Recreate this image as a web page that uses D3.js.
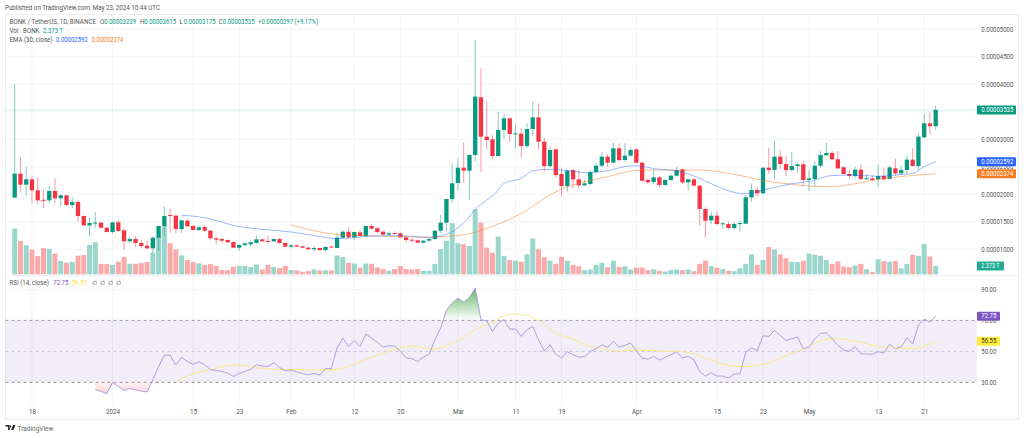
<!DOCTYPE html>
<html><head><meta charset="utf-8">
<script src="https://cdn.jsdelivr.net/npm/d3@7/dist/d3.min.js"></script>
<style>
html,body{margin:0;padding:0;background:#fff;overflow:hidden}
svg{display:block}
text{font-family:Roboto,"Open Sans",sans-serif}
</style></head><body>
<svg id="c" width="1024" height="438"></svg>
<script>
// ---- data, prices in units of 1e-8 USDT, volume in trillions ----
const firstDay = [2023, 11, 15];
const opens = [1939,2375,2175,2272,2072,1900,1890,2060,1927,1981,
1805,1860,1605,1436,1478,1484,1393,1314,1490,1345,
1145,1187,1115,1066,1018,1211,1424,1625,1612,1369,
1521,1424,1351,1405,1339,1199,1187,1169,1133,1030,
1078,1090,1115,1181,1151,1145,1187,1115,1048,1072,
1054,1030,1000,1024,985,1050,1024,1211,1320,1217,
1308,1242,1423,1381,1320,1266,1296,1290,1217,1175,
1163,1120,1157,1187,1338,1484,1914,2205,2484,2429,
2715,3763,3048,2999,2696,3169,3381,3096,3102,2878,
3187,3399,2957,2514,2817,2368,2150,2441,2272,2163,
2187,2405,2520,2684,2575,2836,2623,2702,2817,2575,
2260,2223,2308,2169,2260,2338,2454,2217,2272,2157,
1733,1526,1611,1460,1460,1387,1466,1466,1945,2078,
2017,2484,2442,2684,2551,2442,2514,2545,2260,2278,
2520,2708,2751,2636,2490,2369,2333,2448,2278,2290,
2272,2333,2278,2472,2381,2442,2630,2514,3036,3290,3239];
const closes = [2375,2175,2272,2072,1890,1890,2060,1927,1981,1805,
1860,1605,1436,1478,1486,1393,1314,1490,1333,1145,
1187,1115,1060,1018,1211,1424,1605,1615,1369,1527,
1418,1351,1399,1339,1199,1175,1157,1127,1030,1078,
1108,1127,1181,1145,1145,1187,1115,1048,1072,1048,
1030,1000,1024,985,1042,1042,1211,1320,1217,1314,
1242,1423,1375,1314,1266,1290,1284,1217,1169,1157,
1120,1157,1187,1338,1484,1914,2200,2484,2429,2715,
3775,3048,2987,2696,3169,3381,3096,3108,2878,3187,
3399,2957,2514,2805,2350,2150,2429,2272,2163,2199,
2405,2520,2684,2575,2836,2623,2702,2805,2575,2247,
2217,2308,2169,2260,2338,2441,2217,2272,2157,1733,
1520,1611,1460,1472,1387,1460,1478,1945,2078,2017,
2484,2442,2684,2551,2442,2514,2545,2260,2290,2520,
2714,2751,2636,2472,2369,2333,2448,2278,2290,2260,
2333,2272,2490,2381,2442,2630,2514,3048,3290,3239,3535];
const highs = [4005,2666,2496,2345,2302,2090,2150,2284,2000,1985,
1940,1890,1618,1575,1678,1496,1400,1495,1533,1375,
1230,1240,1163,1150,1230,1424,1781,1745,1620,1535,
1545,1440,1424,1436,1350,1230,1211,1181,1140,1090,
1133,1163,1254,1190,1254,1200,1211,1127,1090,1080,
1066,1042,1060,1030,1060,1070,1290,1350,1400,1320,
1350,1430,1460,1411,1340,1320,1326,1314,1242,1199,
1181,1163,1199,1350,1623,1920,2563,2642,2945,2730,
4805,4290,3696,3078,3502,3442,3400,3272,3199,3290,
3684,3654,3036,2866,2836,2472,2454,2454,2441,2260,
2441,2563,2775,2733,2945,2927,2927,2848,2836,2590,
2290,2441,2330,2280,2370,2502,2470,2290,2285,2170,
1763,1684,1702,1502,1502,1502,1520,1987,2199,2126,
2484,2848,2969,2805,2702,2763,2581,2605,2442,2605,
2787,2938,2787,2787,2514,2454,2502,2545,2363,2340,
2545,2484,2514,2654,2514,2702,2835,3108,3460,3484,3615];
const lows = [1939,2030,1969,1836,1817,1745,1836,1836,1787,1787,
1751,1496,1424,1242,1393,1381,1305,1284,1314,987,
1120,1042,1030,1000,939,969,1254,1302,1290,1302,
1405,1340,1333,1315,1181,1084,1120,1108,1025,969,
1060,1048,1108,1135,1133,1133,1103,1042,1018,1040,
1018,981,957,975,963,1030,1024,1200,1200,1170,
1230,1230,1363,1290,1254,1248,1272,1199,1120,1120,
1108,1110,1139,1169,1290,1320,1847,2078,2205,1896,
2600,2411,2817,2636,2690,3005,2957,2836,2666,2836,
3060,2805,2411,2480,2300,1957,2047,2105,2110,2150,
2169,2380,2490,2500,2563,2593,2600,2690,2563,2225,
2180,2180,2130,2150,2240,2320,2190,2066,2140,1424,
1211,1454,1442,1369,1363,1363,1320,1460,1866,1957,
2005,2381,2278,2460,2332,2423,2393,2151,2060,2139,
2490,2702,2623,2460,2363,2290,2290,2248,2260,2240,
2139,2260,2272,2339,2351,2381,2502,2442,3017,3090,3175];
const volumes = [13.1,9.5,8.3,7.05,5.2,7.5,7.3,5.9,3.8,3.3,
3.5,5.3,5.5,8.4,9.2,3.0,3.0,2.7,3.6,5.0,
3.0,3.0,3.2,3.5,6.2,11,13.8,8.9,7.1,5.4,
4.1,3.5,3.1,2.6,2.9,2.4,1.2,1.2,2.2,2.4,
2.4,2.1,2.8,1.4,2.7,2.1,1.8,2.4,1.2,1.1,
0.7,0.9,1.4,1.1,1.1,1.1,5.4,4.9,3.3,3.1,
1.9,3.1,3.0,2.0,1.5,1.0,1.5,2.4,1.5,1.4,
1.5,1.0,1.0,3.0,7.2,9.6,14.6,8.9,8.6,8.1,
18.6,14.8,7.6,6.2,10.8,5.2,4.1,3.9,3.6,5.7,
10.3,7.2,4.9,3.9,3.0,5.0,3.9,2.7,2.3,1.2,
1.4,2.7,3.3,2.0,3.9,2.1,2.3,1.4,1.9,1.9,
1.2,1.4,1.0,0.8,1.2,1.4,1.2,1.4,0.9,3.0,
3.9,2.4,1.9,1.5,1.0,0.9,1.7,3.0,5.7,2.7,
4.1,7.8,7.1,5.7,4.6,3.6,3.5,3.9,5.9,5.6,
5.3,4.1,3.0,3.7,2.2,2.0,2.5,3.0,1.4,0.7,
4.3,3.8,3.6,3.8,1.7,3.0,5.6,5.3,8.7,5.1,2.373];

const emaFastDays = [29,33,38.5,43,48,52.5,56,62.5,67,72,74,76,78.5,80,82,83.5,85,88,90,92.5,95,97,99,103,106,108,111.5,114.5,118,121.5,124.5,126.7,129,132,135,138.4,141.8,145.5,150,153,156,158,160];
const emaFast = [1618,1575,1424,1363,1315,1242,1193,1242,1248,1217,1242,1320,1532,1726,1896,2017,2199,2290,2423,2454,2441,2423,2393,2429,2502,2520,2460,2435,2332,2169,2048,2011,2048,2126,2193,2242,2339,2351,2327,2351,2381,2502,2592];
const emaSlowDays = [48,56,62.5,68,72,75.6,78.5,82,85,89,92.5,96,99,103,106.5,108.8,111.5,115.5,119,123,127,130.5,134.6,138.7,141.6,145.7,150,154.9,160];
const emaSlow = [1442,1270,1242,1229,1217,1242,1272,1381,1502,1714,1957,2138,2229,2320,2411,2441,2441,2436,2442,2399,2320,2242,2187,2145,2139,2187,2272,2332,2374];

const rsiStart = 14;
const rsi = [25.3,24.2,22.7,30,27.4,24.8,
26.1,25.3,24.4,23.8,31.7,40.3,47.6,47.6,41.2,46.1,
43.5,41.6,43.3,41.4,38.2,37.7,37.1,36,33.9,35.8,
37.1,38.4,41.4,40.5,40.3,42.7,39.7,37.5,38,36.7,
35.8,34.9,35.8,34.7,39,38.8,52.2,58.6,53.2,57,
53.2,61.2,58.6,55.8,52.8,53.7,53.4,50,45.9,45.3,
43.5,46.3,48.1,57.5,65,76.5,81.2,84.4,81.8,84.8,
90.9,70.4,69.8,62.9,68.3,70.4,64.4,64.4,59.7,64,
66.1,57.5,50.2,54.3,48.3,45.7,49.8,47.8,46.3,46.6,
50,51.7,54.3,52.6,56.5,52.8,53.9,55.4,50.4,45.7,
45,46.8,44.4,46.1,47.8,49.8,45.7,46.8,44.6,37.1,
33.9,36.2,34.1,34.1,32.8,35.4,35.6,49.4,52.2,50.6,
60.1,59.7,63.5,60.3,57.1,58.2,59.2,51.7,52.8,58,
61.6,62,58.2,53.9,50.9,50,53,48.5,48.3,48.1,
49.8,48.9,54.7,51.7,53,58.8,54.7,67,70.9,68.9,72.75];
const rsiMaDays = [28,30,34,38,39,43,48,53,56,59.4,62.3,65.8,69,72.8,75,78,80.2,82.5,84.8,87,89.5,91.8,94,97,99,102,105,108.6,112,115.5,118.4,121.9,126,128.9,131.7,134.6,137.5,139.8,142.7,146.2,150.2,153,156,160];
const rsiMa = [30.2,34.3,38.2,41.2,41.2,39,38.2,38,38.4,42.5,46.8,50.9,53.4,51.5,53.9,59,64.6,67.8,72.6,74.1,72.6,67.8,61.8,58,54.3,51.7,50.2,50.9,50.2,50,47.8,43.1,40.1,40.8,43.5,48.1,52.2,56.5,58.2,56.5,53.2,52.4,51.9,56.55];

const priceGrid = [1000,1500,2000,2500,3000,3500,4000,4500,5000];
const priceTicks = [1000,1500,2000,2500,3000,4000,4500,5000];
const rsiTicks = [30,50,70,90];
const timeTicks = [[2023,11,18,"18"],[2024,0,1,"2024"],[2024,0,15,"15"],[2024,0,23,"23"],[2024,1,1,"Feb"],[2024,1,12,"12"],[2024,1,20,"20"],[2024,2,1,"Mar"],[2024,2,11,"11"],[2024,2,19,"19"],[2024,3,1,"Apr"],[2024,3,15,"15"],[2024,3,23,"23"],[2024,4,1,"May"],[2024,4,13,"13"],[2024,4,21,"21"]];

const UP="#089981", DOWN="#F23645", VUP="#9bd6cd", VDOWN="#fbaaaa";
const BLUE="#2962FF", ORANGE="#F57C1F", PURPLE="#7E57C2", YEL="#FFEB3B";

const svg=d3.select("#c");
const L=5.5,R=1018.5,T=14.5,B=419.5,AX=977;
const day=i=>new Date(Date.UTC(firstDay[0],firstDay[1],firstDay[2]+i));
const x=d3.scaleUtc().domain([day(0),day(160)]).range([14.7,935.7]);
const X=i=>x(new Date(+day(0)+i*864e5));
const y=d3.scaleLinear().domain([1000,5000]).range([249.3,29.3]);
const yVol=d3.scaleLinear().domain([0,20]).range([274.3,204.4]);
const yR=d3.scaleLinear().domain([30,90]).range([382.4,289.4]);
const bw=4.3;

// card
svg.append("rect").attr("x",L).attr("y",T).attr("width",R-L).attr("height",B-T).attr("fill","#fff").attr("stroke","#e9ebf0");
svg.append("text").attr("x",5).attr("y",10).attr("font-size",6.6).attr("fill","#555").attr("textLength",155).attr("lengthAdjust","spacingAndGlyphs").text("Published on TradingView.com, May 23, 2024 10:44 UTC");

// grid
const tickDates=timeTicks.map(t=>new Date(Date.UTC(t[0],t[1],t[2])));
const grid=svg.append("g").attr("stroke","#f3f4f6").attr("stroke-width",1);
grid.selectAll("line.v").data(tickDates).join("line").attr("class","v")
 .attr("x1",d=>x(d)).attr("x2",d=>x(d)).attr("y1",T).attr("y2",406);
grid.selectAll("line.h").data(priceGrid).join("line").attr("class","h")
 .attr("x1",L).attr("x2",AX).attr("y1",d=>y(d)).attr("y2",d=>y(d));
grid.append("line").attr("x1",L).attr("x2",AX).attr("y1",yR(90)).attr("y2",yR(90));
svg.append("line").attr("x1",L).attr("x2",R).attr("y1",275.5).attr("y2",275.5).attr("stroke","#eef0f3");

// volume
const idx=d3.range(opens.length);
svg.append("g").selectAll("rect").data(idx).join("rect")
 .attr("x",i=>X(i)-2.5).attr("width",5).attr("y",i=>yVol(volumes[i]))
 .attr("height",i=>yVol(0)-yVol(volumes[i]))
 .attr("fill",i=>closes[i]>=opens[i]?VUP:VDOWN);

// last price line
svg.append("line").attr("x1",L).attr("x2",AX).attr("y1",y(3535)).attr("y2",y(3535))
 .attr("stroke","#089981").attr("stroke-opacity",.3).attr("stroke-dasharray","1 1");

// candles
const cg=svg.append("g");
cg.selectAll("line").data(idx).join("line")
 .attr("x1",i=>X(i)).attr("x2",i=>X(i)).attr("y1",i=>y(highs[i])).attr("y2",i=>y(lows[i]))
 .attr("stroke",i=>closes[i]>=opens[i]?UP:DOWN).attr("stroke-opacity",.5).attr("stroke-width",1);
cg.selectAll("rect").data(idx).join("rect")
 .attr("x",i=>X(i)-bw/2).attr("width",bw)
 .attr("y",i=>y(Math.max(opens[i],closes[i])))
 .attr("height",i=>Math.max(1,Math.abs(y(opens[i])-y(closes[i]))))
 .attr("fill",i=>closes[i]>=opens[i]?UP:DOWN);

// EMA lines
const line=(dx,vals,sc)=>d3.line().x((d,i)=>X(dx[i])).y(d=>sc(d)).curve(d3.curveMonotoneX)(vals);
svg.append("path").attr("d",line(emaSlowDays,emaSlow,y)).attr("fill","none").attr("stroke",ORANGE).attr("stroke-opacity",.5).attr("stroke-width",1);
svg.append("path").attr("d",line(emaFastDays,emaFast,y)).attr("fill","none").attr("stroke",BLUE).attr("stroke-opacity",.45).attr("stroke-width",1);

// RSI pane
svg.append("rect").attr("x",L).attr("width",AX-L).attr("y",yR(70)).attr("height",yR(30)-yR(70)).attr("fill",PURPLE).attr("fill-opacity",.1);
[[70,"#8d8c99"],[50,"#c6c0d6"],[30,"#8d8c99"]].forEach(([v,c])=>{
 svg.append("line").attr("x1",L).attr("x2",AX).attr("y1",yR(v)).attr("y2",yR(v)).attr("stroke",c).attr("stroke-dasharray","3 3").attr("stroke-width",.9);
});
const defs=svg.append("defs");
const gu=defs.append("linearGradient").attr("id","gu").attr("gradientUnits","userSpaceOnUse").attr("x1",0).attr("x2",0).attr("y1",yR(90)).attr("y2",yR(70));
gu.append("stop").attr("offset",0).attr("stop-color","#4CAF50").attr("stop-opacity",.85);
gu.append("stop").attr("offset",1).attr("stop-color","#4CAF50").attr("stop-opacity",0);
const gd=defs.append("linearGradient").attr("id","gd").attr("gradientUnits","userSpaceOnUse").attr("x1",0).attr("x2",0).attr("y1",yR(30)).attr("y2",yR(22));
gd.append("stop").attr("offset",0).attr("stop-color","#F23645").attr("stop-opacity",.05);
gd.append("stop").attr("offset",1).attr("stop-color","#F23645").attr("stop-opacity",.25);
defs.append("clipPath").attr("id","cu").append("rect").attr("x",L).attr("width",AX-L).attr("y",276).attr("height",yR(70)-276);
defs.append("clipPath").attr("id","cd").append("rect").attr("x",L).attr("width",AX-L).attr("y",yR(30)).attr("height",60);
const rx=(d,i)=>X(rsiStart+i);
svg.append("path").attr("clip-path","url(#cu)").attr("fill","url(#gu)")
 .attr("d",d3.area().x(rx).y0(yR(70)).y1(d=>yR(d))(rsi));
svg.append("path").attr("clip-path","url(#cd)").attr("fill","url(#gd)")
 .attr("d",d3.area().x(rx).y0(yR(30)).y1(d=>yR(d))(rsi.slice(0,11)));
svg.append("path").attr("d",line(rsiMaDays,rsiMa,yR)).attr("fill","none").attr("stroke","#FDE98A").attr("stroke-width",1);
svg.append("path").attr("d",d3.line().x(rx).y(d=>yR(d))(rsi)).attr("fill","none").attr("stroke","#B39DDB").attr("stroke-width",1);

// axes
const style=w=>g=>{g.select(".domain").remove();g.selectAll(".tick line").remove();
 const t=g.selectAll("text").attr("font-size",6.3).attr("fill","#555").attr("font-family","Roboto,sans-serif");
 if(w) t.attr("textLength",w).attr("lengthAdjust","spacingAndGlyphs");};
svg.append("g").attr("transform",`translate(${AX+4.3},0)`)
 .call(d3.axisRight(y).tickValues(priceTicks).tickSize(0).tickPadding(0).tickFormat(d=>(d*1e-8).toFixed(8))).call(style(32));
svg.append("g").attr("transform",`translate(${AX+4.3},0)`)
 .call(d3.axisRight(yR).tickValues(rsiTicks).tickSize(0).tickPadding(0).tickFormat(d=>d.toFixed(2))).call(style(15));
svg.append("g").attr("transform","translate(0,410)")
 .call(d3.axisBottom(x).tickValues(tickDates).tickSize(0).tickPadding(0).tickFormat((d,i)=>timeTicks[i][3])).call(style(0));

// price labels
const tag=(yy,w,fill,color,txt,tw)=>{
 svg.append("rect").attr("x",AX).attr("y",yy-4.5).attr("width",w).attr("height",9).attr("rx",1).attr("fill",fill);
 svg.append("text").attr("x",AX+4.3).attr("y",yy+2.2).attr("font-size",6.3).attr("fill",color)
  .attr("textLength",tw).attr("lengthAdjust","spacingAndGlyphs").text(txt);
};
tag(y(3535),39,UP,"#fff","0.00003535",32);
tag(y(2592),39,BLUE,"#fff","0.00002592",32);
tag(y(2374),39,ORANGE,"#fff","0.00002374",32);
tag(yVol(2.373),27,"#22ab94","#fff","2.373 T",18.3);
tag(yR(72.75),23,PURPLE,"#fff","72.75",15);
tag(yR(56.55),23,YEL,"#333","56.55",15);

// legend
const lab=(xx,yy,txt,c,w)=>{const t=svg.append("text").attr("x",xx).attr("y",yy).attr("font-size",6.3).attr("fill",c).text(txt);
 if(w) t.attr("textLength",w).attr("lengthAdjust","spacingAndGlyphs");return t;};
lab(9.5,23.5,"BONK / TetherUS, 1D, BINANCE","#555",86.5);
[[100,"O","0.00003239"],[140,"H","0.00003615"],[179.5,"L","0.00003175"],[218.5,"C","0.00003535"]].forEach(([a,k,v])=>{
 lab(a,23.5,k,"#555");lab(a+4.3,23.5,v,UP,31.7);});
lab(258,23.5,"+0.00000297 (+9.17%)",UP,60);
lab(9.5,32.5,"Vol · BONK","#555",30);lab(43,32.5,"2.373 T",UP,20);
lab(9.5,41.5,"EMA (30, close)","#555",43);lab(56,41.5,"0.00002592",BLUE,31.7);lab(91.7,41.5,"0.00002374",ORANGE,31.7);
lab(9.5,285,"RSI (14, close)","#555",39.5);lab(53.3,285,"72.75",PURPLE,15);lab(72,285,"56.55","#FBE25A",15);
[91.5,99.5,107.5,115.5].forEach(a=>lab(a,285,"∅","#555"));

// footer
svg.append("path").attr("d","M5.5 425h4.2v5h-1.6v-3.4H5.5zM13 425h2.4l-2 5h-2.2z M10.2 425.6a.9 .9 0 1 0 .01 0z").attr("fill","#222");
lab(17.5,430.5,"TradingView","#666",36);
</script></body></html>
